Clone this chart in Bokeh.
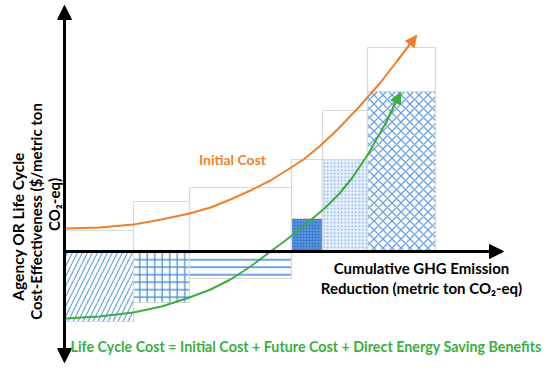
import math
from bokeh.plotting import figure
from bokeh.models import Range1d, Label, Arrow, NormalHead
from bokeh.embed import file_html
from bokeh.resources import INLINE

# ---- data (conceptual units) ----
bar_left = [0, 69, 125, 227, 258, 303]
bar_right = [69, 125, 227, 258, 303, 371]
initial_cost = [21, 50, 64, 92, 141, 204]
life_cycle = [-70, -51, -27, 33, 92, 160]
patterns = ["/", "+", "-", ".", ".", "x"]

orange_x = [0, 35, 69, 97, 125, 146, 166, 186, 206, 222, 239, 256, 273, 295, 316, 333, 352]
orange_y = [23, 24, 27, 32, 38, 44, 52, 61, 71, 81, 92, 106, 122, 145, 169, 191, 216]

green_x = [0, 35, 69, 97, 125, 146, 166, 186, 206, 221, 241, 261, 275, 288, 304, 321, 336]
green_y = [-67, -65, -61, -55, -46, -38, -28, -15, 0, 11, 27, 44, 58, 74, 98, 128, 159]

ORANGE = "#F07F2A"
GREEN = "#3DAE3D"
BLUE = "#4A8FDB"
LIGHT_BLUE = "#6AA2E4"
GREY = "#D9D9D9"
FONT = "Lato"

W, H = 550, 372
p = figure(width=W, height=H, output_backend="svg", toolbar_location=None,
           x_range=Range1d(-64, W - 64), y_range=Range1d(251 - H, 251),
           x_axis_type=None, y_axis_type=None, min_border=0)
p.outline_line_color = None
p.grid.visible = False

# grey outline boxes (initial cost)
p.quad(left=bar_left, right=bar_right, bottom=0, top=initial_cost,
       fill_color=None, line_color=GREY, line_width=1.2)

# patterned boxes (life cycle cost)
styles = [
    dict(fill_color="white", hatch_color=LIGHT_BLUE, hatch_scale=10, hatch_weight=1.2),
    dict(fill_color="white", hatch_color=BLUE, hatch_scale=7.5, hatch_weight=1.3),
    dict(fill_color="white", hatch_color=BLUE, hatch_scale=7.5, hatch_weight=1.6),
    dict(fill_color="#3F80D2", hatch_color="#7FB0EA", hatch_scale=3, hatch_weight=1),
    dict(fill_color="#E8F0FB", hatch_color="#7DAEE8", hatch_scale=3.5, hatch_weight=1.2),
    dict(fill_color="white", hatch_color=LIGHT_BLUE, hatch_scale=9, hatch_weight=1.3),
]
for i in range(len(bar_left)):
    p.quad(left=[bar_left[i]], right=[bar_right[i]], bottom=[0], top=[life_cycle[i]],
           line_color=GREY, line_width=1.2, hatch_pattern=patterns[i], **styles[i])

# curves
p.line(orange_x, orange_y, line_color=ORANGE, line_width=2)
p.line(green_x, green_y, line_color=GREEN, line_width=2)
p.add_layout(Arrow(x_start=orange_x[-2], y_start=orange_y[-2], x_end=orange_x[-1], y_end=orange_y[-1],
                   line_color=ORANGE, line_width=2,
                   end=NormalHead(size=11, fill_color=ORANGE, line_color=ORANGE)))
p.add_layout(Arrow(x_start=green_x[-2], y_start=green_y[-2], x_end=green_x[-1], y_end=green_y[-1],
                   line_color=GREEN, line_width=2,
                   end=NormalHead(size=11, fill_color=GREEN, line_color=GREEN)))

# axes with arrowheads
p.add_layout(Arrow(x_start=0, y_start=0, x_end=439, y_end=0, line_color="black", line_width=3,
                   end=NormalHead(size=14, fill_color="black", line_color="black")))
p.add_layout(Arrow(x_start=0, y_start=-111, x_end=0, y_end=246, line_color="black", line_width=3,
                   start=NormalHead(size=14, fill_color="black", line_color="black"),
                   end=NormalHead(size=14, fill_color="black", line_color="black")))

# texts
def lab(x, y, t, color="black", size="15px", align="center", angle=0.0):
    p.add_layout(Label(x=x, y=y, text=t, text_color=color, text_font=FONT,
                       text_font_style="bold", text_font_size=size, text_align=align,
                       text_baseline="middle", angle=angle))

lab(168, 92, "Initial Cost", color=ORANGE, size="14px")
lab(357, -16, "Cumulative GHG Emission")
lab(357, -36, "Reduction (metric ton CO\u2082-eq)")
lab(-47, 25, "Agency OR Life Cycle", size="15.5px", angle=math.pi / 2)
lab(-29, 40, "Cost-Effectiveness ($/metric ton", angle=math.pi / 2)
lab(-11, 47, "CO\u2082-eq)", angle=math.pi / 2)
lab(6, -95, "Life Cycle Cost = Initial Cost + Future Cost + Direct Energy Saving Benefits",
    color=GREEN, size="14.3px", align="left")

open("out.html", "w").write(file_html(p, INLINE))
